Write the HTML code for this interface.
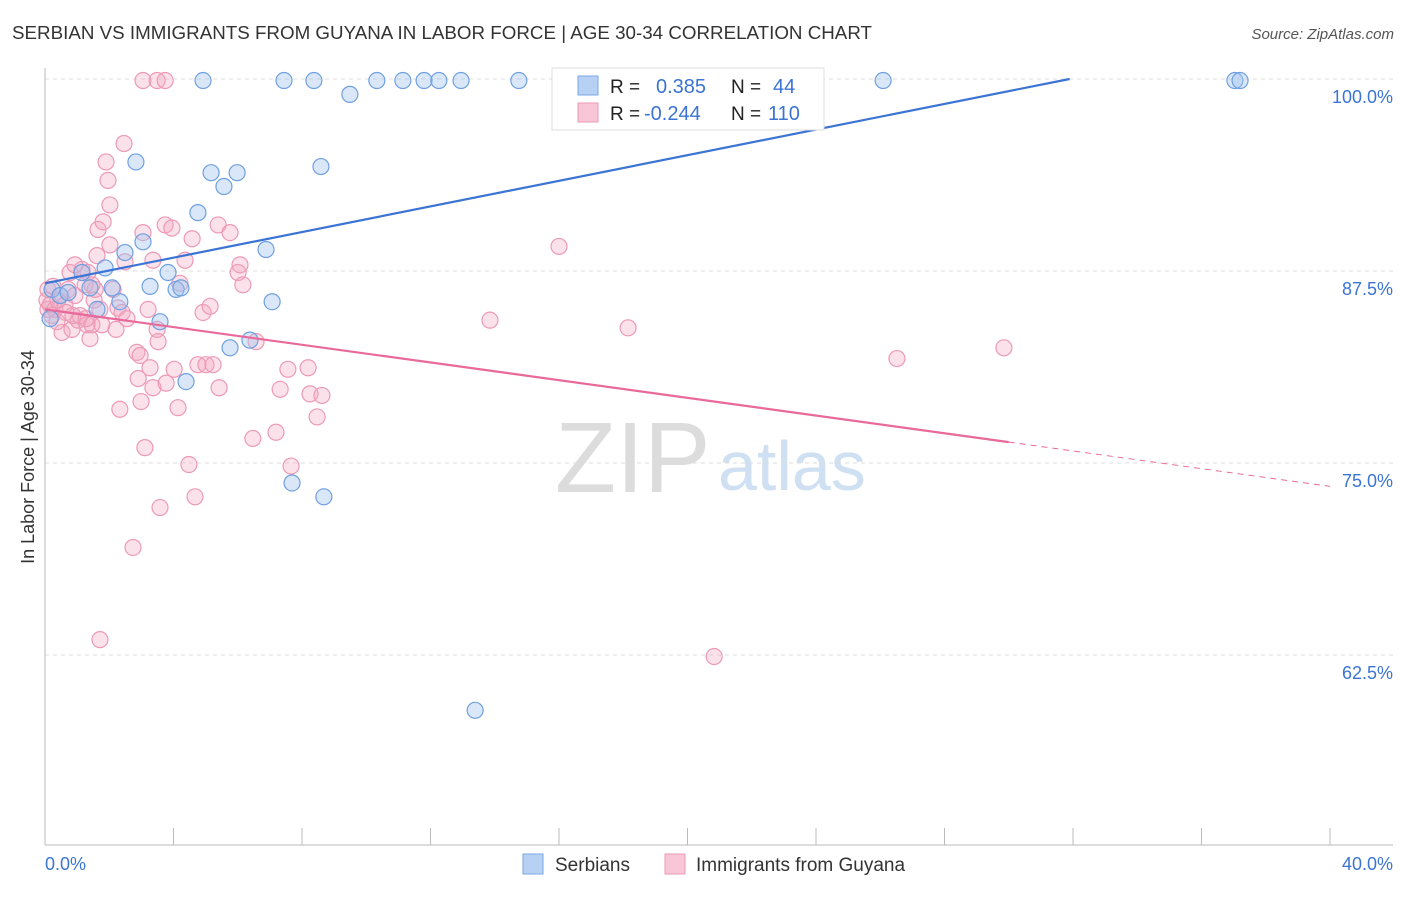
<!DOCTYPE html>
<html><head><meta charset="utf-8"><style>
body{margin:0;background:#fff;font-family:"Liberation Sans",sans-serif;}
svg text{font-family:"Liberation Sans",sans-serif;}
</style></head><body>
<svg id="chart" width="1406" height="892" xmlns="http://www.w3.org/2000/svg">
<text x="12" y="39" font-size="18" fill="#333" textLength="860" lengthAdjust="spacingAndGlyphs">SERBIAN VS IMMIGRANTS FROM GUYANA IN LABOR FORCE | AGE 30-34 CORRELATION CHART</text>
<text x="1394" y="39" font-size="15" fill="#555" text-anchor="end" font-style="italic">Source: ZipAtlas.com</text>
<g>
<text x="555" y="492" font-size="100" fill="#dcdcdc" font-family="Liberation Serif">ZIP</text>
<text x="718" y="490" font-size="70" fill="#cfe0f3">atlas</text>
</g>
<g id="grid"></g>
<g id="axes"></g>
<g id="marks"></g>
<text transform="translate(34,457) rotate(-90)" font-size="18" fill="#333" text-anchor="middle">In Labor Force | Age 30-34</text>
<g>
<rect x="552" y="68" width="272" height="62" fill="#fff" stroke="#ddd"/>
<rect x="578" y="76" width="20" height="19" fill="#b6d1f3" stroke="#7aa7e3"/>
<rect x="578" y="103" width="20" height="19" fill="#f8c6d6" stroke="#ec9ab6"/>
<text x="610" y="93" font-size="19" fill="#222">R =</text><text x="656" y="93" font-size="20" fill="#3b74d4">0.385</text>
<text x="731" y="93" font-size="19" fill="#222">N =</text><text x="773" y="93" font-size="20" fill="#3b74d4">44</text>
<text x="610" y="120" font-size="19" fill="#222">R =</text><text x="644" y="120" font-size="20" fill="#3b74d4">-0.244</text>
<text x="731" y="120" font-size="19" fill="#222">N =</text><text x="768" y="120" font-size="20" fill="#3b74d4">110</text>
</g>
<g>
<rect x="523" y="854" width="20" height="20" fill="#b6d1f3" stroke="#7aa7e3"/>
<text x="555" y="871" font-size="19" fill="#333">Serbians</text>
<rect x="665" y="854" width="20" height="20" fill="#f8c6d6" stroke="#ec9ab6"/>
<text x="696" y="871" font-size="19" fill="#333">Immigrants from Guyana</text>
</g>
</svg>
<script>
const yTicks=[100,87.5,75,62.5];
const yTickLabels=["100.0%","87.5%","75.0%","62.5%"];
const xTickLabels=["0.0%","40.0%"];
const blueX=[0.16,0.22,0.47,0.72,1.15,1.40,1.62,1.87,2.09,2.33,2.49,2.83,3.05,3.27,3.58,3.83,4.08,4.23,4.39,4.76,4.92,5.17,5.57,5.76,5.98,6.38,6.88,7.07,7.44,7.69,8.37,8.59,8.68,9.49,10.33,11.14,11.80,12.26,12.95,13.39,14.75,26.09,37.04,37.20];
const blueY=[84.4,86.3,85.9,86.1,87.4,86.4,85.0,87.7,86.4,85.5,88.7,94.6,89.4,86.5,84.2,87.4,86.3,86.4,80.3,91.3,99.9,93.9,93.0,82.5,93.9,83.0,88.9,85.5,99.9,73.7,99.9,94.3,72.8,99.0,99.9,99.9,99.9,99.9,99.9,58.9,99.9,99.9,99.9,99.9];
const pinkX=[0.06,0.09,0.16,0.22,0.31,0.40,0.47,0.53,0.62,0.72,0.78,0.84,0.93,1.03,1.09,1.15,1.25,1.31,1.34,1.40,1.46,1.53,1.56,1.62,1.65,1.71,1.77,1.81,1.90,1.96,2.02,2.02,2.12,2.21,2.27,2.33,2.40,2.46,2.49,2.55,2.74,2.86,2.90,2.96,2.99,3.05,3.11,3.21,3.27,3.36,3.36,3.49,3.52,3.58,3.74,3.77,3.95,4.02,4.14,4.20,4.36,4.48,4.58,4.67,4.76,4.92,5.01,5.14,5.23,5.39,5.42,5.76,6.01,6.07,6.16,6.47,6.57,7.19,7.32,7.56,7.66,8.19,8.25,8.47,8.62,3.05,3.49,3.74,13.85,16.00,18.15,20.83,26.52,29.85,0.09,0.25,0.37,0.65,0.87,1.28,1.71,0.93,1.46];
const pinkY=[85.6,85.0,85.3,84.6,85.0,85.6,85.9,83.5,85.3,86.3,87.4,83.7,85.9,84.3,84.6,87.6,86.6,84.0,87.4,83.1,84.0,85.6,86.3,88.5,90.2,63.5,84.0,90.7,94.6,93.4,89.2,91.8,86.3,83.7,85.1,78.5,84.8,95.8,88.1,84.4,69.5,82.2,80.5,82.0,79.0,90.0,76.0,85.0,81.2,88.2,79.9,83.7,82.9,72.1,90.5,80.2,90.3,81.1,78.6,86.7,88.2,74.9,89.6,72.8,81.4,84.8,81.4,85.2,81.4,90.5,79.9,90.0,87.4,87.9,86.6,76.6,82.9,77.0,79.8,81.1,74.8,81.2,79.5,78.0,79.4,99.9,99.9,99.9,84.3,89.1,83.8,62.4,81.8,82.5,86.3,86.5,84.2,84.8,84.6,84.4,85.0,87.9,86.6];
const blueTrend=[86.7,0.417];
const pinkTrend=[85.0,-0.288];
const NS="http://www.w3.org/2000/svg";
const X0=45,X1=1330,Y100=79,PXPER=15.36;
function sx(v){return X0+(v/40)*(X1-X0);}
function sy(v){return Y100+(100-v)*PXPER;}
function mk(tag,attrs,parent){const e=document.createElementNS(NS,tag);for(const k in attrs)e.setAttribute(k,attrs[k]);parent.appendChild(e);return e;}
const grid=document.getElementById('grid'),axes=document.getElementById('axes'),marks=document.getElementById('marks');
yTicks.forEach((t,i)=>{
 const l=mk('line',{x1:45,x2:1393,y1:sy(t),y2:sy(t),stroke:'#ddd','stroke-dasharray':'4,4'},grid);
 
 
 const tx=mk('text',{x:1393,y:sy(t)+24,'font-size':18,fill:'#3b74d4','text-anchor':'end'},axes);
 tx.textContent=yTickLabels[i];
 
 
});
mk('line',{x1:45,x2:45,y1:68,y2:845,stroke:'#bbb'},axes);
mk('line',{x1:45,x2:1393,y1:845,y2:845,stroke:'#bbb'},axes);
for(let i=0;i<=10;i++){const l=mk('line',{x1:sx(i*4),x2:sx(i*4),y1:828,y2:845,stroke:'#bbb'},axes);
 
 }
const xl0=mk('text',{x:45,y:870,'font-size':18,fill:'#3b74d4'},axes);xl0.textContent=xTickLabels[0];


const xl1=mk('text',{x:1393,y:870,'font-size':18,fill:'#3b74d4','text-anchor':'end'},axes);xl1.textContent=xTickLabels[1];


pinkX.forEach((x,i)=>{const c=mk('circle',{cx:sx(x),cy:sy(pinkY[i]),r:8,fill:'rgba(244,170,196,0.35)',stroke:'#ec9ab6','stroke-width':1.2},marks);
 
 });
blueX.forEach((x,i)=>{const c=mk('circle',{cx:sx(x),cy:sy(blueY[i]),r:8,fill:'rgba(160,195,240,0.4)',stroke:'#6fa0e0','stroke-width':1.2},marks);
 
 });
const bxEnd=(100-blueTrend[0])/blueTrend[1];
const bl=mk('line',{x1:sx(0),y1:sy(blueTrend[0]),x2:sx(bxEnd),y2:sy(100),stroke:'#3b74d4','stroke-width':2.2},marks);


const pl=mk('line',{x1:sx(0),y1:sy(pinkTrend[0]),x2:sx(30),y2:sy(pinkTrend[0]+30*pinkTrend[1]),stroke:'#e8699a','stroke-width':2.2},marks);


const pd=mk('line',{x1:sx(30),y1:sy(pinkTrend[0]+30*pinkTrend[1]),x2:sx(40),y2:sy(pinkTrend[0]+40*pinkTrend[1]),stroke:'#e8699a','stroke-width':1,'stroke-dasharray':'6,5'},marks);


</script>
</body></html>
